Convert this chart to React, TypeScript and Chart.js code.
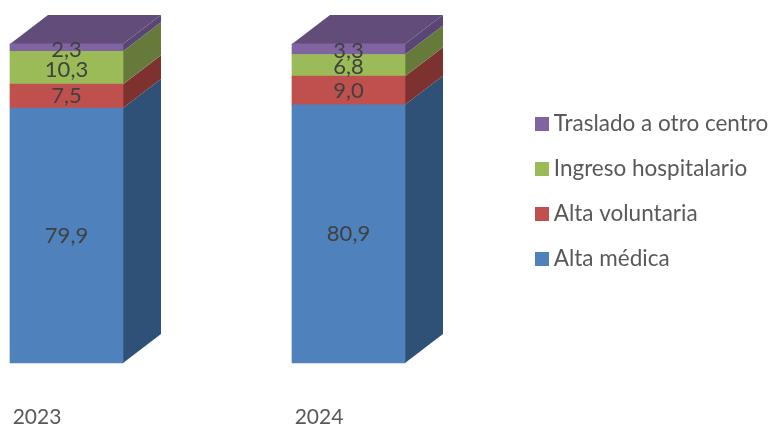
import React, { useEffect, useRef } from "react";
import { Chart, registerables } from "chart.js";

Chart.register(...registerables);

const categories = ["2023", "2024"];
const altaMedica = [79.9, 80.9];
const altaVoluntaria = [7.5, 9.0];
const ingresoHospitalario = [10.3, 6.8];
const trasladoCentro = [2.3, 3.3];

const seriesNames = ["Alta médica", "Alta voluntaria", "Ingreso hospitalario", "Traslado a otro centro"];
const frontColors = ["#4F81BD", "#C0504D", "#9BBB59", "#8064A2"];
const sideColors = ["#2F5178", "#7D3230", "#667B3B", "#594675"];
const topColor = "#614C7A";

const DEPTH_X = 38;
const DEPTH_Y = 29;
const FONT = "Lato";
const LEGEND_SIZE = 22.5;
const TICK_SIZE = 21;
const LABEL_SIZE = 22;

function swatch(color: string) {
  const c = document.createElement("canvas");
  c.width = 14;
  c.height = 14;
  const g = c.getContext("2d")!;
  g.fillStyle = color;
  g.fillRect(0, 0, 14, 14);
  return c;
}

const box3d = {
  id: "box3d",
  beforeDatasetsDraw(chart: any) {
    const ctx = chart.ctx;
    const n = chart.data.datasets.length;
    for (let d = 0; d < n; d++) {
      chart.getDatasetMeta(d).data.forEach((bar: any) => {
        const p = bar.getProps(["x", "y", "base", "width"], true);
        const right = p.x + p.width / 2;
        const left = p.x - p.width / 2;
        ctx.fillStyle = sideColors[d];
        ctx.beginPath();
        ctx.moveTo(right, p.y);
        ctx.lineTo(right + DEPTH_X, p.y - DEPTH_Y);
        ctx.lineTo(right + DEPTH_X, p.base - DEPTH_Y);
        ctx.lineTo(right, p.base);
        ctx.closePath();
        ctx.fill();
        if (d === n - 1) {
          ctx.fillStyle = topColor;
          ctx.beginPath();
          ctx.moveTo(left, p.y);
          ctx.lineTo(left + DEPTH_X, p.y - DEPTH_Y);
          ctx.lineTo(right + DEPTH_X, p.y - DEPTH_Y);
          ctx.lineTo(right, p.y);
          ctx.closePath();
          ctx.fill();
        }
      });
    }
  },
  afterDatasetsDraw(chart: any) {
    const ctx = chart.ctx;
    ctx.save();
    ctx.font = `${LABEL_SIZE}px ${FONT}`;
    ctx.fillStyle = "#404040";
    ctx.textAlign = "center";
    ctx.textBaseline = "middle";
    chart.data.datasets.forEach((ds: any, d: number) => {
      chart.getDatasetMeta(d).data.forEach((bar: any, i: number) => {
        const p = bar.getProps(["x", "y", "base"], true);
        const extra = d >= 2 ? 2 : 0;
        ctx.fillText(ds.data[i].toFixed(1).replace(".", ","), p.x, (p.y + p.base) / 2 + extra);
      });
    });
    ctx.restore();
  },
};

export default function App() {
  const ref = useRef<HTMLCanvasElement>(null);
  useEffect(() => {
    const values = [altaMedica, altaVoluntaria, ingresoHospitalario, trasladoCentro];
    const chart = new Chart(ref.current!, {
      type: "bar",
      data: {
        labels: categories,
        datasets: values.map((data, i) => ({
          label: seriesNames[i],
          data,
          backgroundColor: frontColors[i],
          barThickness: 113,
          clip: false as any,
        })),
      },
      options: {
        animation: false,
        responsive: false,
        layout: { padding: { left: 66.5, top: 20, right: 0, bottom: 0 } },
        scales: {
          x: {
            stacked: true,
            offset: false,
            grid: { display: false },
            border: { display: false },
            afterFit: (s: any) => {
              s.height = 62;
            },
            ticks: {
              autoSkip: false,
              maxRotation: 0,
              padding: 34,
              labelOffset: -29.5,
              color: "#595959",
              font: { family: FONT, size: TICK_SIZE },
            },
          },
          y: { stacked: true, display: false, min: 0, max: 107.5 },
          spacer: {
            type: "linear",
            position: "right",
            display: true,
            grid: { display: false },
            border: { display: false },
            ticks: { display: false },
            afterFit: (s: any) => {
              s.width = 170.5;
            },
          },
        },
        plugins: {
          tooltip: { enabled: false },
          legend: {
            position: "right",
            fullSize: false,
            reverse: true,
            maxWidth: 252,
            labels: {
              usePointStyle: true,
              pointStyleWidth: 1,
              padding: 22.5,
              color: "#595959",
              font: { family: FONT, size: LEGEND_SIZE, lineHeight: 1.2 },
              generateLabels: (c: any) =>
                Chart.defaults.plugins.legend.labels.generateLabels(c).map((l: any) => ({
                  ...l,
                  pointStyle: swatch(frontColors[l.datasetIndex]),
                })),
            },
          },
        },
      },
      plugins: [box3d],
    } as any);
    return () => chart.destroy();
  }, []);
  return (
    <div style={{ position: "absolute", left: 0, top: 0, width: 771, height: 425, background: "#fff" }}>
      <canvas ref={ref} width={771} height={425} style={{ display: "block" }} />
    </div>
  );
}
